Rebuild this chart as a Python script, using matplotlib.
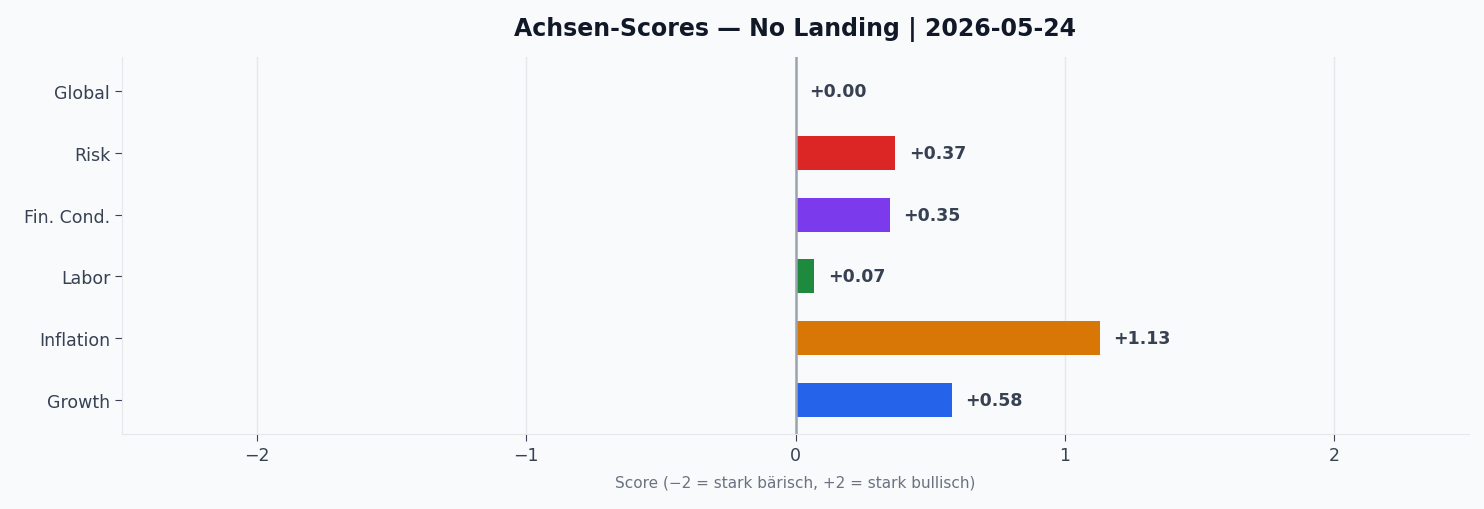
import matplotlib
matplotlib.use("Agg")
import matplotlib.pyplot as plt

categories = ["Growth", "Inflation", "Labor", "Fin. Cond.", "Risk", "Global"]
scores = [0.58, 1.13, 0.07, 0.35, 0.37, 0.00]
colors = ["#2563eb", "#d97706", "#1e8a3e", "#7c3aed", "#dc2626", "#6b7280"]

fig = plt.figure(figsize=(14.84, 5.1), dpi=100, facecolor="#f8fafc")
ax = fig.add_axes([122/1484, 1-435/510, (1469-122)/1484, (435-58)/510])
ax.set_facecolor("#f8fafc")
y = range(len(categories))
ax.barh(y, scores, height=0.55, color=colors, zorder=3)
for yi, v in zip(y, scores):
    ax.text(v + 0.05, yi, f"{v:+.2f}", va="center", ha="left", fontsize=12.5,
            fontweight="bold", color="#374151", zorder=4)
ax.axvline(0, color="#9ca3af", lw=1.8, zorder=4)
ax.set_xlim(-2.5, 2.5)
ax.set_ylim(-0.55, 5.55)
ax.set_yticks(list(y))
ax.set_yticklabels(categories)
ax.set_xticks([-2, -1, 0, 1, 2])
ax.set_xticklabels(["\u22122", "\u22121", "0", "1", "2"])
ax.tick_params(labelsize=12.5, colors="#374151", length=5)
ax.grid(axis="x", color="#e5e7eb", lw=1, zorder=0)
for s in ["top", "right"]:
    ax.spines[s].set_visible(False)
for s in ["left", "bottom"]:
    ax.spines[s].set_color("#e5e7eb")
ax.set_xlabel("Score (\u22122 = stark bärisch, +2 = stark bullisch)", fontsize=11, color="#6b7280", labelpad=8)
ax.set_title("Achsen-Scores \u2014 No Landing | 2026-05-24", fontsize=17, fontweight="bold", color="#111827", pad=16)
fig.savefig("out.png", dpi=100, facecolor=fig.get_facecolor())
